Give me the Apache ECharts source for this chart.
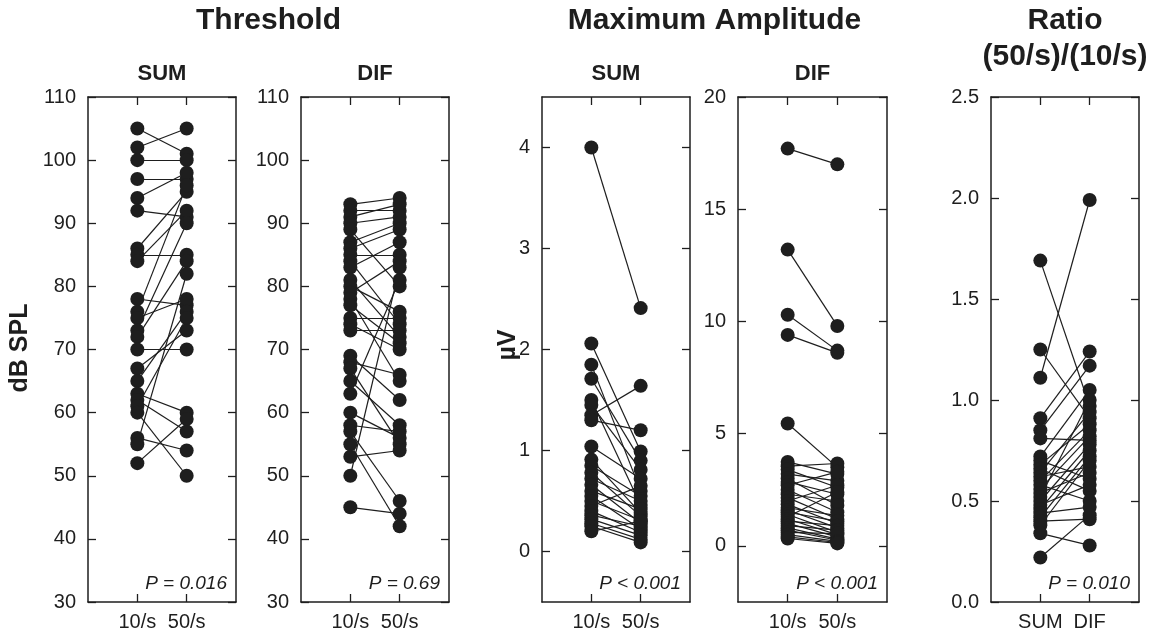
<!DOCTYPE html>
<html><head><meta charset="utf-8">
<script src="https://cdn.jsdelivr.net/npm/echarts@6/dist/echarts.min.js"></script>
<style>html,body{margin:0;padding:0;background:#fff}#c{width:1160px;height:643px}</style>
</head><body><div id="c"></div>
<script>
// ---- data (paired: index i of *10 joined to index i of *50) ----
const rateCats = ['10/s', '50/s'];
const ratioCats = ['SUM', 'DIF'];
const thrSum10 = [105,102,100,97,94,92,86,85,84,78,76,75,73,72,70,67,65,63,62,61,60,56,55,52];
const thrSum50 = [101,105,100,97,98,91,95,85,92,77,96,78,90,84,70,73,76,60,57,75,50,54,82,59];
const thrDif10 = [93,92,91,90,89,87,86,85,84,83,81,80,79,78,77,75,74,73,69,68,67,65,63,60,58,57,55,53,50,45];
const thrDif50 = [94,92,93,91,80,90,89,85,74,87,72,76,84,65,71,75,70,73,62,66,55,58,81,56,57,46,42,54,83,44];
const ampSum10 = [4.0,2.06,1.85,1.71,1.5,1.45,1.35,1.3,1.04,0.91,0.85,0.78,0.72,0.66,0.6,0.55,0.5,0.45,0.4,0.36,0.32,0.28,0.25,0.2];
const ampSum50 = [2.41,0.99,0.6,0.9,0.46,0.81,1.64,1.2,0.72,0.38,0.55,0.35,0.5,0.28,0.42,0.22,0.31,0.65,0.19,0.25,0.16,0.12,0.09,0.3];
const ampDif10 = [17.7,13.2,10.3,9.4,5.45,3.74,3.55,3.4,3.2,3.0,2.85,2.7,2.5,2.3,2.15,2.0,1.85,1.7,1.6,1.5,1.4,1.3,1.2,1.1,1.0,0.9,0.8,0.7,0.6,0.5,0.4,0.33];
const ampDif50 = [17.0,9.8,8.7,8.6,3.5,3.2,3.67,2.6,2.9,1.8,2.3,3.3,1.5,2.0,1.2,2.7,1.0,1.35,0.8,1.1,0.6,2.4,0.5,0.9,0.4,0.7,0.3,0.25,0.55,0.2,0.15,0.11];
const ratioSum = [1.69,1.25,1.11,0.91,0.85,0.81,0.72,0.70,0.68,0.66,0.64,0.62,0.60,0.58,0.56,0.54,0.52,0.50,0.48,0.46,0.44,0.42,0.40,0.38,0.34,0.22];
const ratioDif = [0.97,0.91,1.99,1.24,1.17,0.80,1.05,0.61,0.88,0.55,0.94,0.67,0.85,0.50,0.82,0.64,1.0,0.78,0.58,0.75,0.47,0.72,0.41,0.70,0.28,0.43];
const thrTicks = [30,40,50,60,70,80,90,100,110];
const ampSumTicks = [0,1,2,3,4];
const ampDifTicks = [0,5,10,15,20];
const ratioTicks = [0,0.5,1.0,1.5,2.0,2.5];
const pTexts = ['P = 0.016','P = 0.69','P < 0.001','P < 0.001','P = 0.010'];

// ---- layout ----
const FONT = "'Liberation Sans', Arial, Helvetica, sans-serif";
const INK = '#1e1e1e';
const TOP = 97, H = 505;
const panels = [
  {left: 88,  width: 148, a: thrSum10, b: thrSum50, cats: rateCats, min: 30, max: 110, ticks: thrTicks, fmt: v => String(v)},
  {left: 301, width: 148, a: thrDif10, b: thrDif50, cats: rateCats, min: 30, max: 110, ticks: thrTicks, fmt: v => String(v)},
  {left: 542, width: 148, a: ampSum10, b: ampSum50, cats: rateCats, min: -0.5, max: 4.5, ticks: ampSumTicks, fmt: v => String(v)},
  {left: 738, width: 149, a: ampDif10, b: ampDif50, cats: rateCats, min: -2.5, max: 20, ticks: ampDifTicks, fmt: v => String(v)},
  {left: 991, width: 148, a: ratioSum, b: ratioDif, cats: ratioCats, min: 0, max: 2.5, ticks: ratioTicks, fmt: v => Number(v).toFixed(1)}
];

const grid = [], xAxis = [], yAxis = [], series = [], graphic = [];
const lineSt = {color: INK, width: 1.5};
const tickSt = {show: true, inside: true, length: 8, lineStyle: {color: INK, width: 1.3}};

panels.forEach((p, i) => {
  grid.push({left: p.left, width: p.width, top: TOP, height: H, containLabel: false});
  const cats = p.cats;
  xAxis.push({
    gridIndex: i, type: 'value', position: 'bottom', min: 0, max: 3,
    axisLine: {show: true, onZero: false, lineStyle: lineSt},
    axisTick: Object.assign({customValues: [1, 2]}, tickSt),
    axisLabel: {customValues: [1, 2], formatter: v => cats[Math.round(v) - 1] || '', color: INK, fontSize: 20, fontFamily: FONT, margin: 10},
    splitLine: {show: false}
  });
  xAxis.push({
    gridIndex: i, type: 'value', position: 'top', min: 0, max: 3,
    axisLine: {show: true, onZero: false, lineStyle: lineSt},
    axisTick: Object.assign({customValues: [1, 2]}, tickSt),
    axisLabel: {show: false}, splitLine: {show: false}
  });
  yAxis.push({
    gridIndex: i, type: 'value', position: 'left', min: p.min, max: p.max,
    axisLine: {show: true, onZero: false, lineStyle: lineSt},
    axisTick: Object.assign({customValues: p.ticks}, tickSt),
    axisLabel: {customValues: p.ticks, formatter: p.fmt, color: INK, fontSize: 20, fontFamily: FONT, margin: 12},
    splitLine: {show: false}
  });
  yAxis.push({
    gridIndex: i, type: 'value', position: 'right', min: p.min, max: p.max,
    axisLine: {show: true, onZero: false, lineStyle: lineSt},
    axisTick: Object.assign({customValues: p.ticks}, tickSt),
    axisLabel: {show: false}, splitLine: {show: false}
  });
  series.push({
    type: 'lines', coordinateSystem: 'cartesian2d', xAxisIndex: 2 * i, yAxisIndex: 2 * i,
    silent: true, z: 2,
    lineStyle: {color: INK, width: 1.2, opacity: 1},
    data: p.a.map((v, k) => ({coords: [[1, v], [2, p.b[k]]]}))
  });
  series.push({
    type: 'scatter', xAxisIndex: 2 * i, yAxisIndex: 2 * i, z: 3, symbol: 'circle', symbolSize: 14,
    itemStyle: {color: INK, opacity: 1},
    data: p.a.map(v => [1, v]).concat(p.b.map(v => [2, v]))
  });
  graphic.push({type: 'text', x: p.left + p.width - 9, y: 584,
    style: {text: pTexts[i], fontSize: 19, fontStyle: 'italic', fontFamily: FONT, fill: INK, align: 'right', verticalAlign: 'middle'}});
});

const subT = ['SUM', 'DIF', 'SUM', 'DIF'];
subT.forEach((t, i) => {
  const p = panels[i];
  graphic.push({type: 'text', x: p.left + p.width / 2, y: 74,
    style: {text: t, fontSize: 22, fontWeight: 'bold', fontFamily: FONT, fill: INK, align: 'center', verticalAlign: 'middle'}});
});
const bigTitle = (text, x, y) => ({type: 'text', x, y,
  style: {text, fontSize: 30, fontWeight: 'bold', fontFamily: FONT, fill: INK, align: 'center', verticalAlign: 'middle'}});
graphic.push(bigTitle('Threshold', (panels[0].left + panels[1].left + panels[1].width) / 2, 21));
graphic.push(bigTitle('Maximum Amplitude', (panels[2].left + panels[3].left + panels[3].width) / 2, 21));
graphic.push(bigTitle('Ratio', panels[4].left + panels[4].width / 2, 21));
graphic.push(bigTitle('(50/s)/(10/s)', panels[4].left + panels[4].width / 2, 57));
graphic.push({type: 'text', x: 20, y: 348, rotation: Math.PI / 2,
  style: {text: 'dB SPL', fontSize: 25, fontWeight: 'bold', fontFamily: FONT, fill: INK, align: 'center', verticalAlign: 'middle'}});
graphic.push({type: 'text', x: 508, y: 345, rotation: Math.PI / 2,
  style: {text: 'µV', fontSize: 25, fontWeight: 'bold', fontFamily: FONT, fill: INK, align: 'center', verticalAlign: 'middle'}});

const chart = echarts.init(document.getElementById('c'), null, {renderer: 'canvas'});
chart.setOption({animation: false, backgroundColor: '#fff', grid, xAxis, yAxis, series, graphic});
</script>
</body></html>
